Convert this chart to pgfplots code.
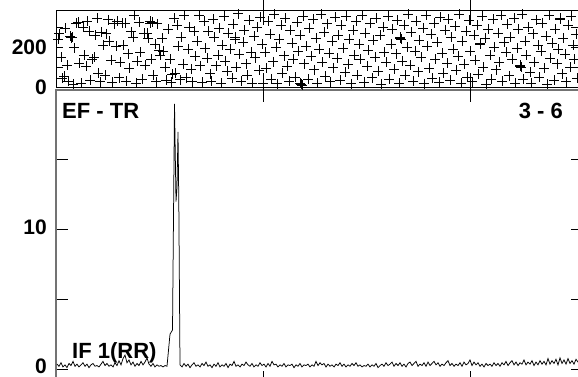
\documentclass[border=0pt]{standalone}
\usepackage{pgfplots}
\pgfplotsset{compat=1.18}
\usepackage{fontspec}
\setmainfont{Liberation Sans}
\newcommand{\lbl}{\fontsize{22}{26}\selectfont\bfseries}
\newcommand{\tlbl}{\fontsize{21}{24}\selectfont\bfseries}
\begin{document}
\begin{tikzpicture}[x=1pt,y=1pt]
\useasboundingbox (0,0) rectangle (578,377);
% bottom panel
\begin{axis}[
  at={(56pt,-6pt)}, anchor=south west, scale only axis,
  width=527pt, height=293pt,
  xmin=56, xmax=583, ymin=-1, ymax=20,
  axis line style={draw=black!55, line width=1.4pt},
  tick style={black, line width=0.9pt},
  tick align=inside,
  major tick length=12pt,
  xtick={263,470}, xticklabels={},
  ytick={0,5,10,15}, yticklabels={0,,10,},
  /pgf/number format/assume math mode=true,
  yticklabel style={font=\tlbl, anchor=east, inner sep=0pt, xshift=-9pt, yshift=2.5pt},
  clip=true,
]
\addplot[black, line width=0.75pt] table {
57 0.35
59 0.20
61 0.45
63 0.15
65 0.30
67 0.10
69 0.40
71 0.25
73 0.55
75 0.20
77 0.35
79 0.15
81 0.30
83 0.45
85 0.20
87 0.35
89 0.10
91 0.30
93 0.40
95 0.20
97 0.25
99 0.15
101 0.35
103 0.55
105 0.25
107 0.40
109 0.20
111 0.30
113 0.15
115 0.45
117 0.25
119 0.60
121 0.30
123 0.75
125 1.00
127 0.45
129 0.65
131 0.30
133 0.50
135 0.20
137 0.40
139 0.25
141 0.55
143 0.30
145 0.50
147 0.80
149 0.35
151 0.20
153 0.40
155 0.15
157 0.30
159 0.20
161 0.25
163 0.15
165 0.25
167 0.20
170 2.50
172.5 2.80
174.5 19.0
176 12.0
177 13.0
178 17.0
178.8 12.0
180 0.30
182 0.15
184 0.40
186 0.20
188 0.35
190 0.10
192 0.30
194 0.45
196 0.20
198 0.30
200 0.15
202 0.40
204 0.25
206 0.50
208 0.20
210 0.30
212 0.10
214 0.35
216 0.20
218 0.45
220 0.15
222 0.30
224 0.20
226 0.40
228 0.10
230 0.35
232 0.25
234 0.55
236 0.20
238 0.30
240 0.15
242 0.35
244 0.25
246 0.50
248 0.30
250 0.20
252 0.40
254 0.15
256 0.30
258 0.20
260 0.45
262 0.25
264 0.35
266 0.15
268 0.40
270 0.20
272 0.55
274 0.30
276 0.35
278 0.15
280 0.30
282 0.20
284 0.40
286 0.15
288 0.30
290 0.25
292 0.35
294 0.10
296 0.30
298 0.20
300 0.40
302 0.15
304 0.30
306 0.25
308 0.35
310 0.15
312 0.30
314 0.20
316 0.55
318 0.25
320 0.45
322 0.30
324 0.40
326 0.15
328 0.35
330 0.20
332 0.30
334 0.15
336 0.35
338 0.25
340 0.45
342 0.20
344 0.35
346 0.15
348 0.30
350 0.20
352 0.40
354 0.25
356 0.45
358 0.20
360 0.30
362 0.15
364 0.25
366 0.20
368 0.35
370 0.15
372 0.30
374 0.20
376 0.40
378 0.10
380 0.25
382 0.35
384 0.20
386 0.45
388 0.25
390 0.35
392 0.50
394 0.20
396 0.40
398 0.25
400 0.45
402 0.20
404 0.35
406 0.15
408 0.40
410 0.50
412 0.25
414 0.40
416 0.55
418 0.20
420 0.35
422 0.25
424 0.45
426 0.20
428 0.50
430 0.25
432 0.40
434 0.55
436 0.30
438 0.45
440 0.20
442 0.35
444 0.25
446 0.45
448 0.60
450 0.25
452 0.40
454 0.20
456 0.35
458 0.25
460 0.45
462 0.20
464 0.50
466 0.30
468 0.40
470 0.65
472 0.25
474 0.50
476 0.30
478 0.45
480 0.20
482 0.35
484 0.15
486 0.40
488 0.25
490 0.35
492 0.20
494 0.45
496 0.25
498 0.40
500 0.20
502 0.45
504 0.30
506 0.55
508 0.25
510 0.45
512 0.60
514 0.30
516 0.50
518 0.25
520 0.45
522 0.35
524 0.65
526 0.30
528 0.50
530 0.35
532 0.60
534 0.25
536 0.50
538 0.30
540 0.60
542 0.35
544 0.55
546 0.30
548 0.75
550 0.35
552 0.60
554 0.40
556 0.70
558 0.30
560 0.80
562 0.40
564 0.65
566 0.35
568 0.75
570 0.40
572 0.60
574 0.35
576 0.70
578 0.50
};
\end{axis}
% top panel
\begin{axis}[
  at={(56pt,289.5pt)}, anchor=south west, scale only axis,
  width=522pt, height=76.8pt,
  xmin=56, xmax=578, ymin=0, ymax=384,
  axis line style={draw=black, line width=1pt},
  tick style={black, line width=0.9pt},
  tick align=inside,
  major tick length=7pt,
  minor tick length=3pt,
  xtick=\empty, minor xtick={212},
  extra x ticks={263,470}, extra x tick labels={},
  extra x tick style={tick align=center, major tick length=28pt},
  ytick={0,100,200,300}, yticklabels={0,,200,},
  /pgf/number format/assume math mode=true,
  yticklabel style={font=\tlbl, anchor=east, inner sep=0pt, xshift=-9pt},
  clip=true,
]
\addplot[only marks, mark=+, mark size=5pt, black, line width=1pt] table {
58 240
59 268
61 150
62 45
64 55
65 295
67 110
68 30
70 255
71 248
72 250
73 15
74 198
76 320
78 325
79 120
81 22
83 300
84 160
86 105
87 330
89 280
90 35
92 140
94 152
95 260
97 345
98 72
100 28
101 275
103 210
105 60
106 268
108 338
109 230
111 135
112 25
114 318
116 205
117 330
119 48
120 125
122 322
123 210
125 320
126 30
128 168
129 95
131 278
133 250
134 360
136 20
137 130
139 325
140 175
142 42
144 270
145 112
147 270
148 245
150 322
150 330
151 140
152 325
153 60
155 215
156 28
157 318
159 185
160 160
162 245
163 180
165 100
166 35
168 290
170 140
171 25
172 65
174 345
175 70
177 310
178 205
180 38
181 250
183 115
184 360
186 48
188 190
189 300
191 92
192 28
194 280
195 155
197 230
199 362
200 108
202 25
204 330
205 195
207 145
208 280
210 68
211 30
213 342
214 250
216 108
218 160
219 295
221 22
222 210
224 355
225 130
227 80
228 270
230 190
232 45
233 315
235 242
235 250
236 100
238 368
239 165
241 30
243 225
244 285
246 118
247 60
249 335
251 175
252 20
254 255
255 148
257 300
259 85
260 350
262 215
263 22
265 175
266 95
268 330
270 265
271 40
273 128
274 365
276 200
277 18
279 240
281 310
282 70
284 158
285 345
287 105
289 30
290 285
292 220
293 140
295 50
297 325
298 180
300 262
300 20
301 15
302 12
303 355
304 118
306 205
308 42
309 295
311 155
313 340
314 88
316 245
317 20
319 190
321 365
322 125
324 275
325 55
327 318
329 170
330 28
332 230
333 98
335 350
337 145
338 260
340 35
341 310
343 195
345 75
346 355
348 115
349 240
351 18
353 285
354 160
356 330
357 62
359 215
360 140
362 360
364 25
365 270
367 105
368 185
370 320
372 48
373 235
375 150
376 345
378 80
380 260
381 15
383 300
384 175
386 125
388 355
389 40
391 215
392 290
394 90
396 168
397 335
399 22
400 245
400 250
401 240
402 130
404 310
405 60
407 200
408 365
410 110
411 275
413 30
415 180
416 330
418 78
419 235
421 150
423 295
424 18
426 360
427 205
429 95
431 265
432 45
434 320
435 140
437 225
439 25
440 350
442 170
443 70
445 285
447 120
448 340
450 35
451 250
453 190
455 305
456 85
458 155
459 365
461 20
462 230
464 115
466 280
467 50
469 335
470 180
472 28
474 260
475 135
477 310
478 65
480 215
480 220
482 355
483 100
485 245
486 15
488 290
490 160
491 40
493 340
494 200
496 88
498 270
499 125
501 360
502 30
504 225
506 175
507 315
509 58
510 250
512 140
514 345
515 22
517 195
518 290
520 105
520 110
521 100
522 365
523 40
525 230
526 160
528 300
530 75
531 20
533 268
534 125
536 338
538 210
539 50
541 180
542 320
544 95
546 255
547 15
549 360
550 145
552 220
554 35
555 290
557 118
558 190
560 340
560 345
562 68
563 245
565 165
566 28
568 310
570 100
571 355
573 210
574 140
576 265
577 45
};
\end{axis}
\node[anchor=base west, inner sep=0pt, font=\lbl] at (62,258) {EF - TR};
\node[anchor=base east, inner sep=0pt, font=\lbl] at (563,258) {3 - 6};
\node[anchor=base west, inner sep=0pt, font=\lbl] at (72,18) {IF 1(RR)};
\end{tikzpicture}
\end{document}
